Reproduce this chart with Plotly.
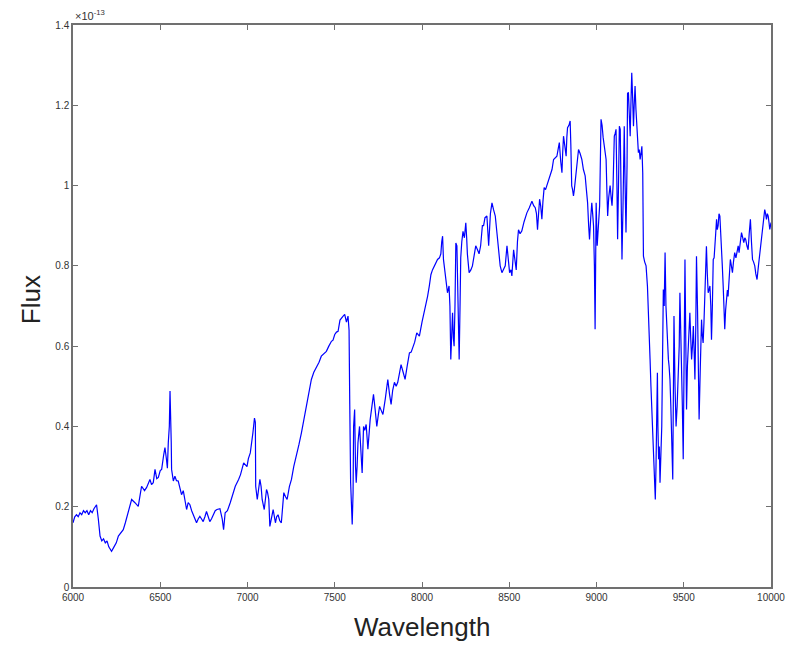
import plotly.graph_objects as go

# Wavelength (Angstrom) and flux (units of 1e-13)
wavelength = [
6000,6010,6020,6030,6040,6050,6060,6070,6080,6090,6100,6110,6120,6135,6145,6155,6165,6175,6185,6195,
6205,6221,6235,6248,6260,6275,6288,6300,6317,6336,6355,6374,6385,6393,6410,6422,6441,6450,6460,6470,
6480,6489,6500,6508,6520,6527,6535,6541,6546,6552,6556,6559,6563,6565,6575,6584,6593,6603,6612,6622,
6632,6641,6651,6660,6670,6680,6689,6698,6708,6718,6727,6736,6746,6756,6765,6775,6784,6794,6803,6815,
6825,6842,6855,6863,6872,6885,6901,6915,6930,6949,6960,6978,6997,7005,7016,7031,7040,7045,7047,7056,
7064,7071,7078,7084,7096,7109,7115,7122,7128,7138,7147,7160,7167,7175,7185,7194,7208,7218,7227,7240,
7252,7265,7280,7295,7309,7325,7338,7352,7366,7380,7395,7410,7423,7438,7452,7466,7481,7490,7500,7510,
7519,7530,7538,7548,7557,7567,7576,7582,7586,7591,7600,7605,7608,7614,7619,7623,7628,7633,7642,7650,
7657,7665,7672,7680,7690,7703,7712,7722,7732,7741,7750,7757,7766,7776,7790,7804,7814,7823,7832,7842,
7852,7861,7870,7880,7892,7903,7915,7928,7938,7947,7958,7970,7985,8000,8013,8022,8032,8042,8051,8060,
8070,8080,8089,8100,8108,8113,8118,8123,8130,8137,8146,8155,8160,8165,8170,8175,8180,8184,8189,8194,
8200,8206,8213,8218,8222,8228,8235,8243,8251,8256,8260,8270,8280,8289,8298,8308,8318,8327,8336,8346,
8353,8361,8372,8382,8392,8401,8410,8420,8430,8439,8448,8458,8467,8477,8487,8495,8502,8510,8515,8525,
8533,8540,8547,8553,8562,8572,8585,8601,8615,8630,8640,8649,8656,8662,8668,8674,8680,8687,8693,8700,
8708,8716,8725,8735,8745,8754,8764,8773,8780,8787,8795,8802,8806,8811,8818,8826,8830,8834,8842,8849,
8853,8858,8863,8868,8873,8878,8888,8897,8906,8916,8925,8935,8942,8949,8955,8960,8967,8973,8978,8983,
8988,8992,8995,8998,9004,9012,9018,9026,9032,9038,9045,9050,9055,9060,9064,9070,9078,9084,9089,9095,
9102,9107,9112,9117,9121,9126,9131,9136,9141,9146,9152,9159,9164,9169,9175,9178,9183,9188,9193,9197,
9202,9207,9212,9216,9221,9226,9231,9236,9240,9245,9250,9255,9260,9265,9269,9276,9284,9292,9298,9303,
9307,9312,9317,9322,9326,9330,9334,9337,9341,9345,9349,9352,9356,9360,9364,9369,9374,9378,9383,9388,
9393,9398,9402,9407,9412,9416,9421,9426,9431,9434,9437,9440,9444,9450,9456,9462,9469,9474,9478,9483,
9488,9492,9497,9502,9507,9512,9516,9521,9526,9530,9535,9540,9545,9550,9555,9560,9564,9569,9573,9579,
9584,9588,9595,9602,9606,9611,9616,9621,9626,9630,9635,9640,9645,9650,9655,9659,9664,9669,9674,9678,
9683,9688,9692,9697,9702,9707,9712,9716,9721,9726,9730,9735,9740,9745,9750,9754,9760,9767,9773,9779,
9785,9792,9799,9806,9812,9817,9824,9831,9838,9844,9850,9855,9862,9869,9875,9882,9888,9894,9900,9907,
9913,9920,9928,9936,9944,9951,9958,9964,9969,9974,9979,9984,9988,9993,9997,10000]

flux = [
.16,.175,.18,.175,.185,.18,.19,.185,.19,.18,.19,.185,.195,.205,.17,.127,.115,.12,.11,.115,
.10,.089,.10,.11,.127,.135,.143,.16,.185,.218,.21,.201,.23,.251,.24,.248,.268,.255,.26,.293,
.27,.273,.29,.293,.33,.347,.32,.296,.359,.40,.488,.447,.36,.293,.264,.276,.265,.264,.245,.23,
.24,.22,.193,.21,.205,.19,.181,.17,.16,.17,.176,.17,.163,.175,.188,.175,.163,.17,.18,.19,
.193,.195,.17,.143,.185,.19,.21,.23,.251,.268,.28,.309,.30,.32,.334,.384,.421,.41,.251,.218,
.24,.268,.25,.218,.193,.243,.235,.218,.151,.17,.193,.16,.175,.18,.165,.16,.235,.225,.218,.25,
.268,.30,.326,.355,.384,.42,.459,.49,.517,.535,.546,.56,.575,.58,.587,.60,.612,.615,.629,.635,
.637,.665,.671,.675,.679,.66,.675,.64,.455,.26,.156,.235,.40,.442,.30,.26,.30,.359,.40,.33,
.284,.40,.39,.405,.343,.417,.45,.48,.44,.40,.43,.45,.44,.43,.47,.517,.48,.455,.49,.51,
.50,.51,.53,.554,.535,.517,.55,.583,.585,.595,.61,.633,.625,.66,.683,.70,.724,.75,.778,.79,
.799,.81,.816,.82,.83,.86,.874,.816,.79,.77,.733,.75,.70,.567,.62,.683,.62,.60,.70,.857,
.85,.75,.567,.70,.82,.86,.886,.87,.907,.87,.83,.783,.79,.80,.83,.85,.84,.83,.85,.90,
.90,.92,.924,.85,.93,.957,.94,.924,.88,.841,.80,.783,.79,.80,.85,.82,.783,.79,.775,.84,
.81,.79,.86,.89,.88,.887,.91,.932,.945,.961,.95,.945,.93,.89,.93,.966,.95,.916,.96,.995,
.99,1.0,1.01,1.028,1.04,1.065,1.07,1.073,1.09,1.107,1.06,1.032,1.08,1.123,1.10,1.073,1.12,1.144,1.15,1.161,
1.10,.999,.99,.974,.99,1.015,1.06,1.09,1.08,1.065,1.04,1.024,.99,.957,.90,.866,.92,.957,.93,.90,
.80,.642,.80,.957,.85,.916,.95,1.165,1.15,1.12,1.098,1.08,1.065,.98,.924,.97,1.0,.97,.95,1.0,
1.123,1.13,1.14,1.0,.866,1.0,1.148,1.14,.95,.816,.95,1.148,1.0,.883,1.05,1.23,1.231,1.17,1.123,1.2,
1.281,1.22,1.148,1.2,1.248,1.19,1.148,1.11,1.082,1.09,1.065,1.08,1.098,1.032,.824,.81,.80,.749,.65,.60,
.567,.50,.442,.40,.367,.30,.251,.218,.30,.45,.534,.40,.318,.35,.26,.33,.40,.55,.741,.70,
.833,.70,.65,.60,.567,.55,.517,.45,.35,.30,.268,.45,.675,.50,.40,.45,.525,.60,.733,.65,
.567,.45,.318,.55,.816,.60,.442,.55,.608,.65,.683,.62,.567,.60,.65,.58,.517,.65,.824,.69,
.55,.417,.55,.666,.63,.608,.66,.716,.78,.849,.78,.733,.74,.75,.70,.616,.70,.816,.82,.84,
.88,.916,.89,.90,.93,.924,.89,.85,.80,.75,.70,.642,.69,.733,.74,.724,.78,.816,.80,.783,
.81,.833,.82,.84,.85,.833,.86,.883,.87,.858,.87,.866,.85,.84,.88,.916,.86,.816,.81,.80,
.78,.766,.80,.833,.86,.891,.92,.94,.93,.916,.93,.924,.91,.891,.90,.908]

x_ticks = [6000, 6500, 7000, 7500, 8000, 8500, 9000, 9500, 10000]
x_ticklabels = ["6000", "6500", "7000", "7500", "8000", "8500", "9000", "9500", "10000"]
y_ticks = [0, 0.2, 0.4, 0.6, 0.8, 1.0, 1.2, 1.4]
y_ticklabels = ["0", "0.2", "0.4", "0.6", "0.8", "1", "1.2", "1.4"]

fig = go.Figure()
fig.add_trace(go.Scatter(x=wavelength, y=flux, mode="lines",
                         line=dict(color="#0000ff", width=1.2), showlegend=False,
                         hoverinfo="x+y"))

axis_common = dict(showgrid=False, zeroline=False, showline=True, linecolor="#707070",
                   linewidth=1.5, mirror="allticks", ticks="inside", ticklen=5,
                   tickcolor="#707070", tickwidth=1,
                   tickfont=dict(family="Liberation Sans, Arial", size=10, color="#333333"))

fig.update_layout(
    width=806, height=645,
    margin=dict(l=73, r=35, t=25, b=58),
    paper_bgcolor="white", plot_bgcolor="white",
    xaxis=dict(range=[6000, 10000], tickvals=x_ticks, ticktext=x_ticklabels, **axis_common),
    yaxis=dict(range=[0, 1.4], tickvals=y_ticks, ticktext=y_ticklabels, **axis_common),
    annotations=[
        dict(text="Wavelength", xref="paper", yref="paper", x=0.5, y=-0.072,
             xanchor="center", yanchor="middle", showarrow=False,
             font=dict(family="Liberation Sans, Arial", size=26, color="#222222")),
        dict(text="Flux", xref="paper", yref="paper", x=-0.061, y=0.511,
             xanchor="center", yanchor="middle", textangle=-90, showarrow=False,
             font=dict(family="Liberation Sans, Arial", size=26, color="#222222")),
        dict(text="×10<sup>-13</sup>", xref="paper", yref="paper", x=0.0, y=1.0,
             xanchor="left", yanchor="bottom", showarrow=False, yshift=1,
             font=dict(family="Liberation Sans, Arial", size=11, color="#333333")),
    ],
)

fig.write_html("out.html")
